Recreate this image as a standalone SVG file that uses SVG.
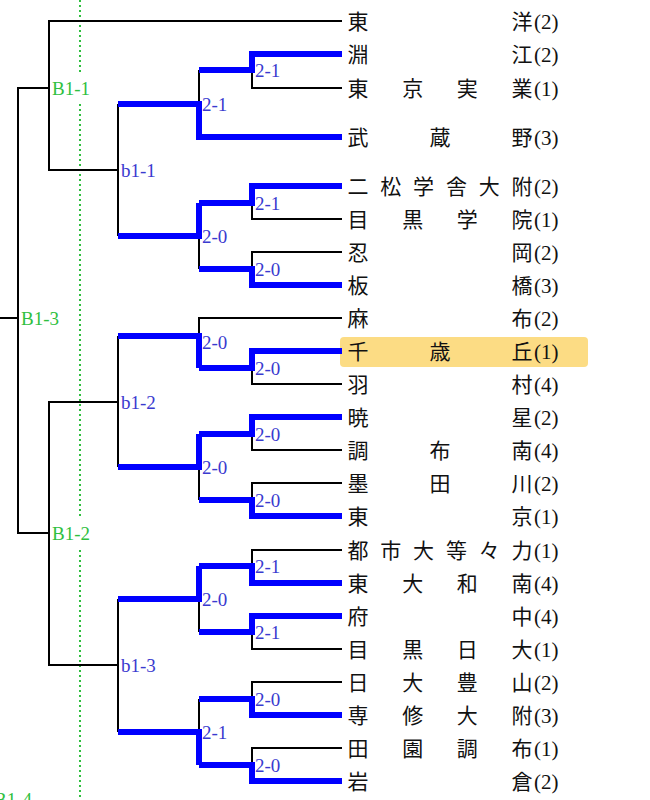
<svg xmlns="http://www.w3.org/2000/svg" width="650" height="800" viewBox="0 0 650 800">
<defs>
<style>
.h{fill:none;stroke:#0000ff;stroke-width:6;stroke-linejoin:miter}
.t{fill:none;stroke:#000;stroke-width:2}
.s{font-family:"Liberation Serif",serif;font-size:19px;fill:#3a3acf}
.g{font-family:"Liberation Serif",serif;font-size:19px;fill:#2fbf3f}
.n{font-family:"Liberation Serif","Noto Sans CJK JP",serif;font-size:21px;fill:#111;text-anchor:middle}
.r{font-family:"Liberation Serif",serif;font-size:21px;fill:#111}
</style>
</defs>
<rect width="650" height="800" fill="#fff"/>
<rect x="340" y="337" width="248" height="30" rx="4" fill="#fcdc84"/>
<path d="M80 0V72M80 104V518M80 550V800" stroke="#2fbf3f" stroke-width="2" stroke-dasharray="2,3" fill="none"/>
<g id="connectors">
<path class="t" d="M342 21H49V170H118M49 88H18V533H49M18 318H0M118 402H49V665H118M118 104V236M118 336V467M118 599V732"/>
<path class="t" d="M252 70V88H342M252 203V219H342M252 269V252H342M252 368V384H342M252 434V450H342M252 500V483H342M252 566V550H342M252 632V649H342M252 699V682H342M252 765V748H342"/>
<path class="t" d="M199 104V70M199 236V269M342 318H199V336M199 467V500M199 599V632M199 732V699"/>
<path class="h" d="M342 54H252V70H199M342 186H252V203H199M342 285H252V269H199M342 351H252V368H199M342 417H252V434H199M342 516H252V500H199M342 583H252V566H199M342 616H252V632H199M342 715H252V699H199M342 781H252V765H199"/>
<path class="h" d="M342 137H199V104H118M199 203V236H118M199 368V336H118M199 434V467H118M199 566V599H118M199 765V732H118"/>
</g>
<g id="scores">
<text class="s" x="255" y="77">2-1</text><text class="s" x="202" y="111">2-1</text>
<text class="s" x="255" y="210">2-1</text><text class="s" x="202" y="243">2-0</text>
<text class="s" x="255" y="276">2-0</text>
<text class="s" x="202" y="349">2-0</text><text class="s" x="255" y="375">2-0</text>
<text class="s" x="255" y="441">2-0</text><text class="s" x="202" y="474">2-0</text>
<text class="s" x="255" y="507">2-0</text>
<text class="s" x="255" y="573">2-1</text><text class="s" x="202" y="606">2-0</text>
<text class="s" x="255" y="639">2-1</text>
<text class="s" x="255" y="706">2-0</text><text class="s" x="202" y="739">2-1</text>
<text class="s" x="255" y="772">2-0</text>
<text class="s" x="121" y="177">b1-1</text><text class="s" x="121" y="409">b1-2</text><text class="s" x="121" y="672">b1-3</text>
<text class="g" x="52" y="95">B1-1</text><text class="g" x="52" y="540">B1-2</text><text class="g" x="21" y="325">B1-3</text><text class="g" x="-6" y="806">B1-4</text>
</g>
<g id="teams">
<text class="n" x="358 522" y="29">東洋</text><text class="r" x="534" y="29">(2)</text>
<text class="n" x="358 522" y="62">淵江</text><text class="r" x="534" y="62">(2)</text>
<text class="n" x="358 412.7 467.3 522" y="96">東京実業</text><text class="r" x="534" y="96">(1)</text>
<text class="n" x="358 440 522" y="145">武蔵野</text><text class="r" x="534" y="145">(3)</text>
<text class="n" x="358 390.8 423.6 456.4 489.2 522" y="194">二松学舎大附</text><text class="r" x="534" y="194">(2)</text>
<text class="n" x="358 412.7 467.3 522" y="227">目黒学院</text><text class="r" x="534" y="227">(1)</text>
<text class="n" x="358 522" y="260">忍岡</text><text class="r" x="534" y="260">(2)</text>
<text class="n" x="358 522" y="293">板橋</text><text class="r" x="534" y="293">(3)</text>
<text class="n" x="358 522" y="326">麻布</text><text class="r" x="534" y="326">(2)</text>
<text class="n" x="358 440 522" y="359">千歳丘</text><text class="r" x="534" y="359">(1)</text>
<text class="n" x="358 522" y="392">羽村</text><text class="r" x="534" y="392">(4)</text>
<text class="n" x="358 522" y="425">暁星</text><text class="r" x="534" y="425">(2)</text>
<text class="n" x="358 440 522" y="458">調布南</text><text class="r" x="534" y="458">(4)</text>
<text class="n" x="358 440 522" y="491">墨田川</text><text class="r" x="534" y="491">(2)</text>
<text class="n" x="358 522" y="524">東京</text><text class="r" x="534" y="524">(1)</text>
<text class="n" x="358 390.8 423.6 456.4 489.2 522" y="558">都市大等々力</text><text class="r" x="534" y="558">(1)</text>
<text class="n" x="358 412.7 467.3 522" y="591">東大和南</text><text class="r" x="534" y="591">(4)</text>
<text class="n" x="358 522" y="624">府中</text><text class="r" x="534" y="624">(4)</text>
<text class="n" x="358 412.7 467.3 522" y="657">目黒日大</text><text class="r" x="534" y="657">(1)</text>
<text class="n" x="358 412.7 467.3 522" y="690">日大豊山</text><text class="r" x="534" y="690">(2)</text>
<text class="n" x="358 412.7 467.3 522" y="723">専修大附</text><text class="r" x="534" y="723">(3)</text>
<text class="n" x="358 412.7 467.3 522" y="756">田園調布</text><text class="r" x="534" y="756">(1)</text>
<text class="n" x="358 522" y="789">岩倉</text><text class="r" x="534" y="789">(2)</text>
</g>
</svg>
